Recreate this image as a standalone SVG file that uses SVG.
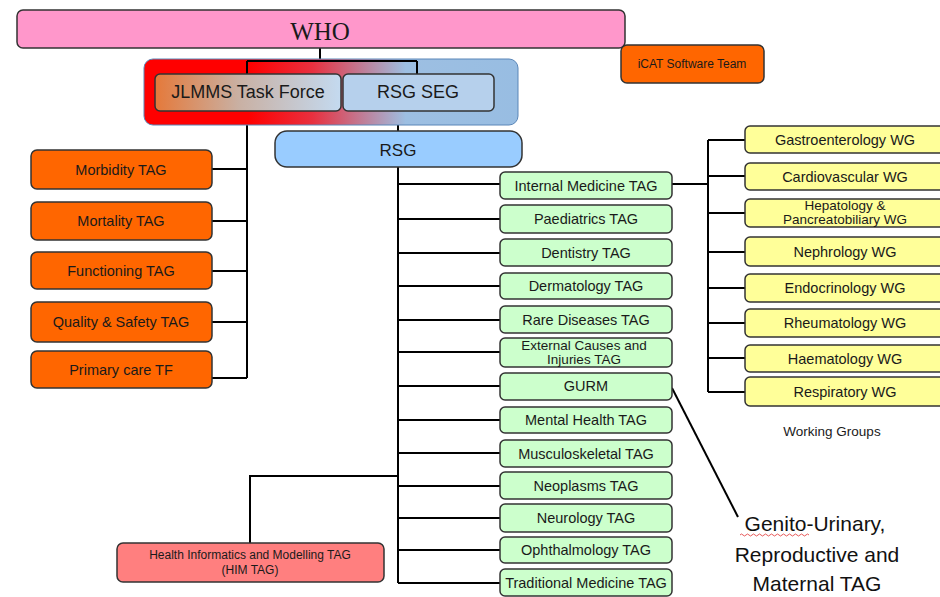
<svg xmlns="http://www.w3.org/2000/svg" width="940" height="597" viewBox="0 0 940 597">
<defs>
<linearGradient id="gCont" x1="0" y1="0" x2="1" y2="0">
<stop offset="0" stop-color="#ff0000"/>
<stop offset="0.28" stop-color="#ff0000"/>
<stop offset="0.45" stop-color="#e8303f"/>
<stop offset="0.7" stop-color="#9dbfe2"/>
<stop offset="1" stop-color="#98bde2"/>
</linearGradient>
<linearGradient id="gJl" x1="0" y1="0" x2="1" y2="0">
<stop offset="0" stop-color="#e5793a"/>
<stop offset="0.45" stop-color="#c9b0a3"/>
<stop offset="1" stop-color="#c4daf0"/>
</linearGradient>
</defs>
<style>
.box{stroke:#333;stroke-width:1.5}
.t{font-family:"Liberation Sans",Arial,sans-serif;fill:#1a1a1a;text-anchor:middle;dominant-baseline:central}
.g{font-family:"Liberation Sans",Arial,sans-serif;font-size:21px;text-anchor:middle;fill:#111}
.c{stroke:#000;stroke-width:2;fill:none}
.orange{fill:#ff6600}
.green{fill:#ccffcc}
.yellow{fill:#ffff99}
</style>

<g id="connectors">
<path class="c" d="M320,48 V61"/>
<path class="c" d="M398,125 V131"/>
<path class="c" d="M247,125 V378 M212,169 H247 M212,221 H247 M212,271 H247 M212,322 H247 M212,378 H247"/>
<path class="c" d="M398,166 V583 M398,184 H500 M398,219 H500 M398,253 H500 M398,286 H500 M398,320 H500 M398,352 H500 M398,386 H500 M398,420 H500 M398,453 H500 M398,486 H500 M398,518 H500 M398,550 H500 M398,583 H500"/>
<path class="c" d="M250,543 V476 H398"/>
<path class="c" d="M672,184 H708 M708,140 V392 M708,140 H745 M708,176 H745 M708,213 H745 M708,252 H745 M708,288 H745 M708,323 H745 M708,358 H745 M708,392 H745"/>
<path class="c" d="M672,388 L738,517"/>
</g>

<g id="who">
<rect class="box" x="17" y="10" width="608" height="38" rx="6" fill="#ff97cb"/>
<text x="320" y="31" font-family="Liberation Serif,serif" font-size="25" text-anchor="middle" dominant-baseline="central" fill="#1a1a1a">WHO</text>
</g>

<g id="icat">
<rect class="box orange" x="621" y="45" width="143" height="38" rx="6"/>
<text class="t" x="692" y="64" font-size="12">iCAT Software Team</text>
</g>

<g id="container">
<rect x="144" y="59" width="374" height="66" rx="9" fill="url(#gCont)" stroke="#5a86b8" stroke-width="1"/>
</g>
<g id="connector-top">
<path class="c" d="M247,61 H417 M247,61 V74 M417,61 V74"/>
</g>
<g id="jlmms">
<rect class="box" x="155" y="74" width="186" height="37" rx="5" fill="url(#gJl)"/>
<text class="t" x="248" y="92" font-size="18">JLMMS Task Force</text>
</g>
<g id="rsgseg">
<rect class="box" x="343" y="74" width="151" height="37" rx="5" fill="#b6d0ec"/>
<text class="t" x="418" y="92" font-size="18">RSG SEG</text>
</g>

<g id="rsg">
<rect class="box" x="275" y="131" width="247" height="36" rx="12" fill="#99ccff"/>
<text class="t" x="398" y="150" font-size="17">RSG</text>
</g>

<g id="morbidity"><rect class="box orange" x="31" y="150" width="181" height="39" rx="6"/><text class="t" x="121" y="170" font-size="14.5">Morbidity TAG</text></g>
<g id="mortality"><rect class="box orange" x="31" y="202" width="181" height="38" rx="6"/><text class="t" x="121" y="221" font-size="14.5">Mortality TAG</text></g>
<g id="functioning"><rect class="box orange" x="31" y="252" width="181" height="37" rx="6"/><text class="t" x="121" y="271" font-size="14.5">Functioning TAG</text></g>
<g id="quality"><rect class="box orange" x="31" y="302" width="181" height="40" rx="6"/><text class="t" x="121" y="322" font-size="14.5">Quality &amp; Safety TAG</text></g>
<g id="primary"><rect class="box orange" x="31" y="351" width="181" height="37" rx="6"/><text class="t" x="121" y="370" font-size="14.5">Primary care TF</text></g>

<g id="internal"><rect class="box green" x="500" y="172" width="172" height="27" rx="5"/><text class="t" x="586" y="185.5" font-size="14.5">Internal Medicine TAG</text></g>
<g id="paediatrics"><rect class="box green" x="500" y="205" width="172" height="28" rx="5"/><text class="t" x="586" y="219" font-size="14.5">Paediatrics TAG</text></g>
<g id="dentistry"><rect class="box green" x="500" y="239" width="172" height="27" rx="5"/><text class="t" x="586" y="253" font-size="14.5">Dentistry TAG</text></g>
<g id="dermatology"><rect class="box green" x="500" y="273" width="172" height="26" rx="5"/><text class="t" x="586" y="286" font-size="14.5">Dermatology TAG</text></g>
<g id="rare"><rect class="box green" x="500" y="306" width="172" height="27" rx="5"/><text class="t" x="586" y="320" font-size="14.5">Rare Diseases TAG</text></g>
<g id="external"><rect class="box green" x="500" y="338" width="172" height="29" rx="5"/><text class="t" x="584" y="345.5" font-size="13.5">External Causes and</text><text class="t" x="584" y="359.5" font-size="13.5">Injuries TAG</text></g>
<g id="gurm"><rect class="box green" x="500" y="373" width="172" height="27" rx="5"/><text class="t" x="586" y="386" font-size="14.5">GURM</text></g>
<g id="mental"><rect class="box green" x="500" y="407" width="172" height="26" rx="5"/><text class="t" x="586" y="420" font-size="14.5">Mental Health TAG</text></g>
<g id="musculoskeletal"><rect class="box green" x="500" y="440" width="172" height="27" rx="5"/><text class="t" x="586" y="453.5" font-size="14.5">Musculoskeletal TAG</text></g>
<g id="neoplasms"><rect class="box green" x="500" y="472" width="172" height="27" rx="5"/><text class="t" x="586" y="486" font-size="14.5">Neoplasms TAG</text></g>
<g id="neurology"><rect class="box green" x="500" y="504" width="172" height="28" rx="5"/><text class="t" x="586" y="518" font-size="14.5">Neurology TAG</text></g>
<g id="ophthalmology"><rect class="box green" x="500" y="537" width="172" height="26" rx="5"/><text class="t" x="586" y="550" font-size="14.5">Ophthalmology TAG</text></g>
<g id="traditional"><rect class="box green" x="500" y="569" width="172" height="27" rx="5"/><text class="t" x="586" y="582.5" font-size="14.5">Traditional Medicine TAG</text></g>

<g id="him"><rect class="box" x="117" y="543" width="267" height="39" rx="6" fill="#ff7f7f"/><text class="t" x="250" y="555" font-size="12">Health Informatics and Modelling TAG</text><text class="t" x="250" y="570" font-size="12">(HIM TAG)</text></g>

<g id="gastro"><rect class="box yellow" x="745" y="126" width="205" height="27" rx="5"/><text class="t" x="845" y="140" font-size="14.5">Gastroenterology WG</text></g>
<g id="cardio"><rect class="box yellow" x="745" y="163" width="205" height="27" rx="5"/><text class="t" x="845" y="176.5" font-size="14.5">Cardiovascular WG</text></g>
<g id="hepato"><rect class="box yellow" x="745" y="199" width="205" height="28" rx="5"/><text class="t" x="845" y="205.5" font-size="13.5">Hepatology &amp;</text><text class="t" x="845" y="219.5" font-size="13.5">Pancreatobiliary WG</text></g>
<g id="nephro"><rect class="box yellow" x="745" y="237" width="205" height="29" rx="5"/><text class="t" x="845" y="252" font-size="14.5">Nephrology WG</text></g>
<g id="endo"><rect class="box yellow" x="745" y="274" width="205" height="28" rx="5"/><text class="t" x="845" y="288" font-size="14.5">Endocrinology WG</text></g>
<g id="rheuma"><rect class="box yellow" x="745" y="309" width="205" height="28" rx="5"/><text class="t" x="845" y="323" font-size="14.5">Rheumatology WG</text></g>
<g id="haema"><rect class="box yellow" x="745" y="345" width="205" height="27" rx="5"/><text class="t" x="845" y="358.5" font-size="14.5">Haematology WG</text></g>
<g id="resp"><rect class="box yellow" x="745" y="377" width="205" height="29" rx="5"/><text class="t" x="845" y="392" font-size="14.5">Respiratory WG</text></g>

<g id="labels">
<text class="t" x="832" y="431" font-size="13.5">Working Groups</text>
<text class="g" x="815" y="531">Genito-Urinary,</text>
<text class="g" x="817" y="562">Reproductive and</text>
<text class="g" x="817" y="591">Maternal TAG</text>
<path d="M740,535 q1.5,-2 3,0 t3,0 t3,0 t3,0 t3,0 t3,0 t3,0 t3,0 t3,0 t3,0 t3,0 t3,0 t3,0 t3,0 t3,0 t3,0 t3,0 t3,0 t3,0 t3,0 t3,0 t3,0 t3,0" fill="none" stroke="#e03030" stroke-width="0.8"/>
</g>
</svg>
